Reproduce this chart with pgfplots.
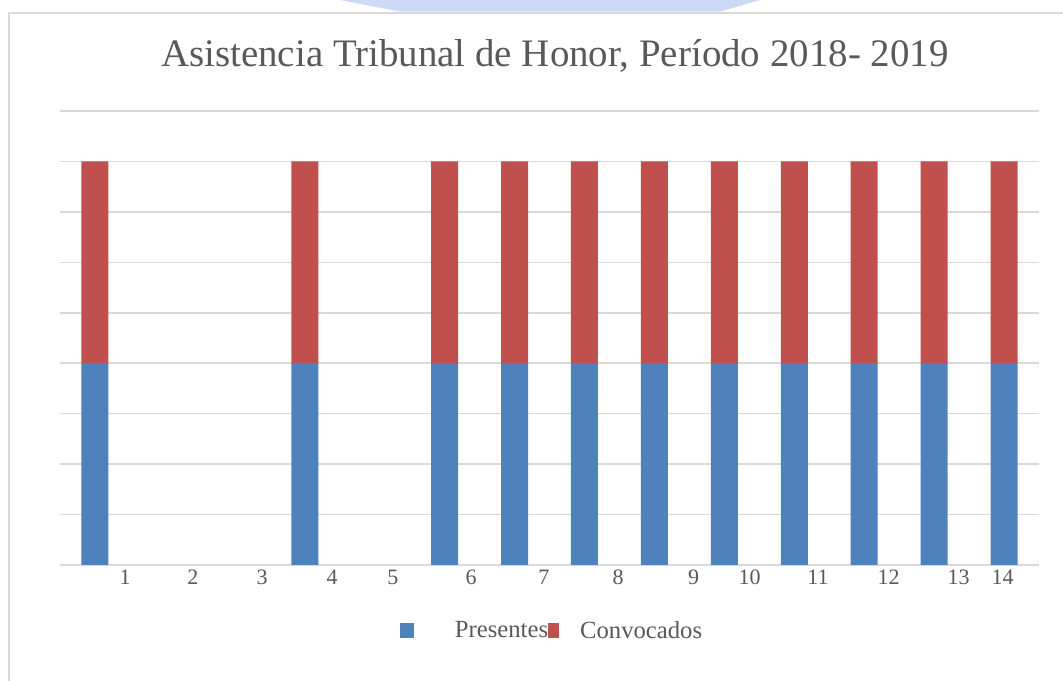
\documentclass[border=0pt]{standalone}
\usepackage{pgfplots}
\pgfplotsset{compat=1.18}
\usepackage{fontspec}
\setmainfont{Liberation Serif}
\definecolor{presblue}{HTML}{4F81BD}
\definecolor{convred}{HTML}{C0504D}
\definecolor{gridgray}{HTML}{D9D9D9}
\definecolor{txtgray}{HTML}{595959}
\definecolor{wmblue}{HTML}{CCDAF5}

\begin{document}
\begin{tikzpicture}
% page frame: 1063 x 681 px at 0.75pt/px, origin at the axis' lower left corner
\useasboundingbox (-45pt,-87pt) rectangle (752.25pt,423.75pt);
\draw[gridgray, line width=1pt] (-38.25pt,-87pt) -- (-38.25pt,414pt) -- (752.25pt,414pt);
\fill[wmblue] (210pt,423.75pt) -- (525pt,423.75pt) -- (495pt,415pt) -- (255pt,415pt) -- cycle;

\begin{axis}[
  at={(0pt,0pt)}, anchor=south west,
  width=734.25pt, height=340.5pt,
  scale only axis,
  ybar stacked,
  bar width=20.25pt,
  xmin=0.5, xmax=14.5,
  ymin=0, ymax=9,
  axis lines=left,
  x axis line style={-, draw=gridgray, line width=1.1pt},
  y axis line style={draw=none},
  ytick={1,...,9},
  yticklabels={},
  ymajorgrids,
  grid style={gridgray, line width=1.1pt},
  major tick length=0pt,
  xtick={1.43,2.40,3.39,4.39,5.26,6.38,7.42,8.48,9.56,10.36,11.34,12.35,13.35,13.98},
  xticklabels={1,2,3,4,5,6,7,8,9,10,11,12,13,14},
  /pgf/number format/assume math mode=true,
  xticklabel style={font=\fontsize{16.5}{18}\selectfont, text=txtgray, anchor=base, yshift=-14.5pt},
  title={Asistencia Tribunal de Honor, Período 2018- 2019},
  title style={font=\fontsize{29.2}{32}\selectfont, text=txtgray, at={(0.5,1)}, anchor=center, yshift=35pt, xshift=4pt},
  legend columns=2,
  legend style={draw=none, fill=none, inner sep=0pt,
    at={(axis description cs:0.347,-0.145)}, anchor=west,
    font=\fontsize{18.5}{20}\selectfont, text=txtgray,
    /tikz/every even column/.append style={column sep=0pt},
    nodes={inner sep=0pt}},
]
\addplot[fill=presblue, draw=none,
  legend image code/.code={
    \fill[presblue, draw=none] (0pt,-5.5pt) rectangle (10.5pt,5.5pt);
    \path[draw=none, fill=none] (0pt,-5.5pt) -- (41.25pt,5.5pt);
  }] coordinates {(1,4) (4,4) (6,4) (7,4) (8,4) (9,4) (10,4) (11,4) (12,4) (13,4) (14,4)};
\addlegendentry{Presentes}
\addplot[fill=convred, draw=none,
  legend image code/.code={
    \fill[convred, draw=none] (0pt,-5.5pt) rectangle (8pt,5.5pt);
    \path[draw=none, fill=none] (0pt,-5.5pt) -- (24pt,5.5pt);
  }] coordinates {(1,4) (4,4) (6,4) (7,4) (8,4) (9,4) (10,4) (11,4) (12,4) (13,4) (14,4)};
\addlegendentry{Convocados}
\end{axis}
\end{tikzpicture}
\end{document}
